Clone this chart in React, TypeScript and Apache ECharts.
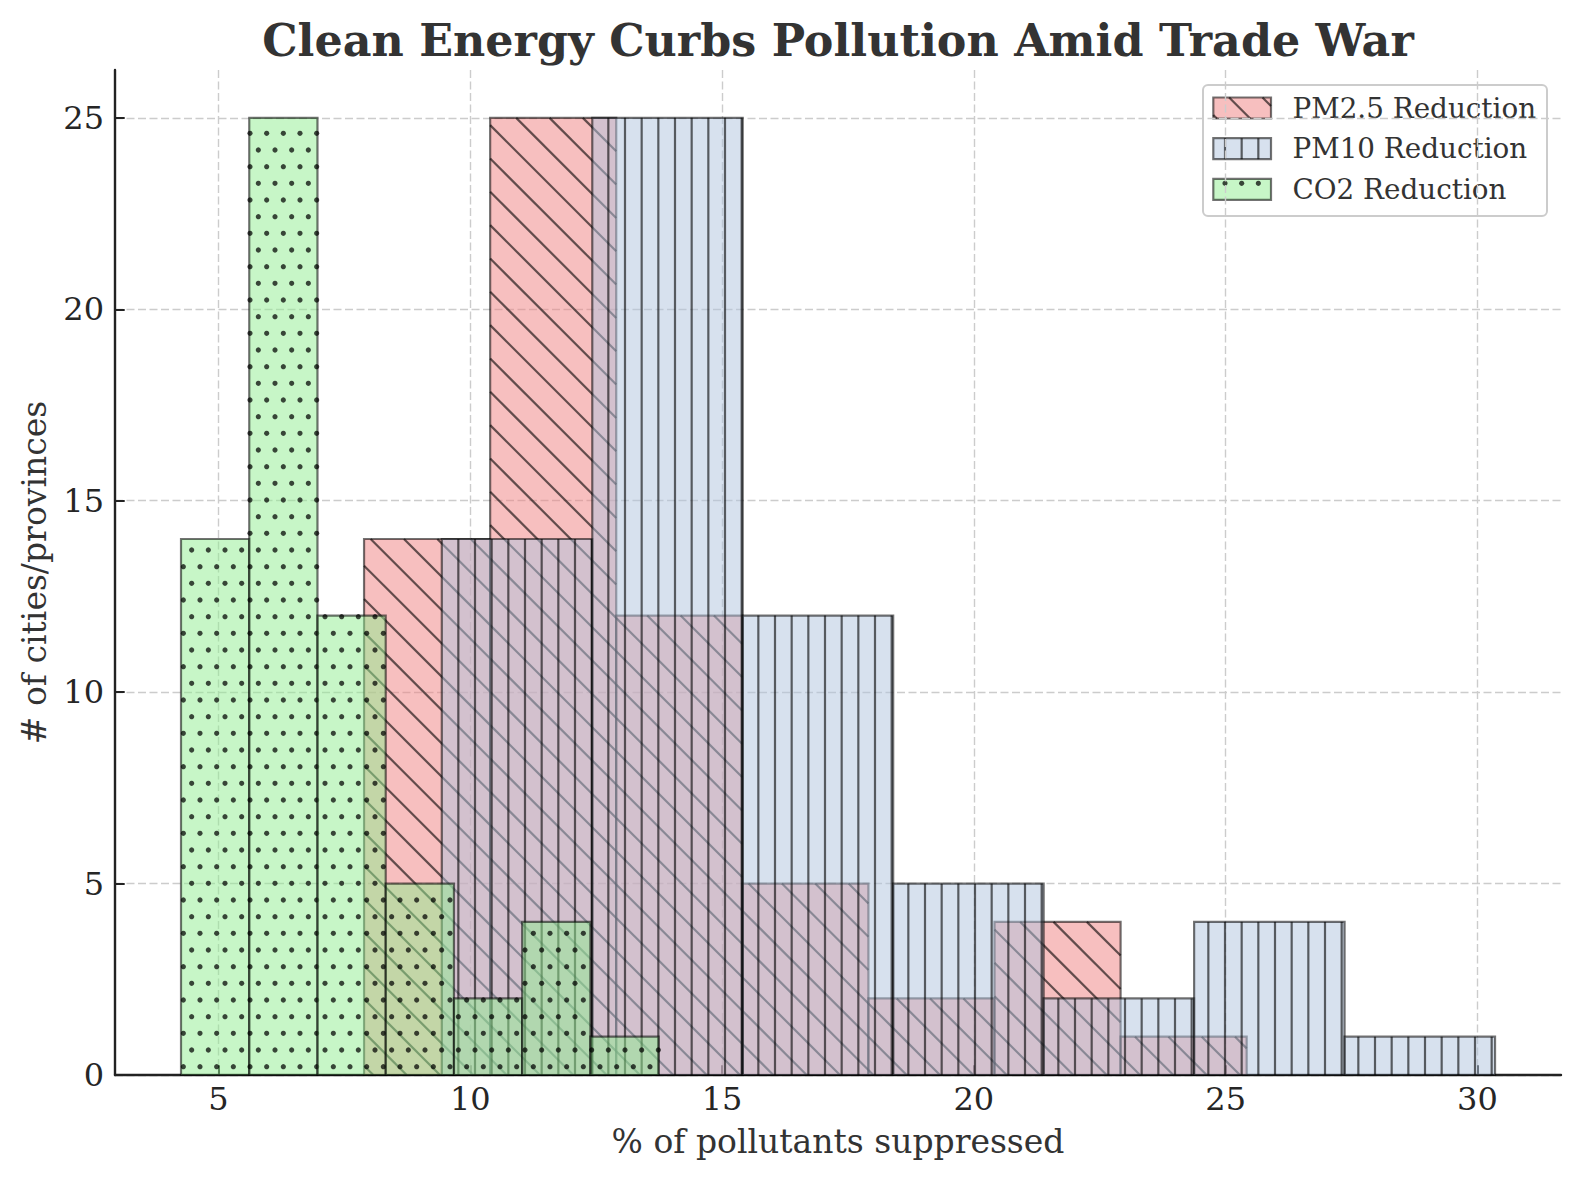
import React, { useEffect, useRef } from 'react';
import * as echarts from 'echarts';

// ---------------- data ----------------
const xTickValues = [5, 10, 15, 20, 25, 30];
const yTickValues = [0, 5, 10, 15, 20, 25];

const pm25Edges = [7.89, 10.394, 12.898, 15.402, 17.906, 20.41, 22.914, 25.418];
const pm25Counts = [14, 25, 12, 5, 2, 4, 1];

const pm10Edges = [9.434, 12.422, 15.41, 18.398, 21.386, 24.374, 27.362, 30.35];
const pm10Counts = [14, 25, 12, 5, 2, 4, 1];

const co2Edges = [4.255, 5.61, 6.965, 8.32, 9.675, 11.03, 12.385, 13.74];
const co2Counts = [14, 25, 12, 5, 2, 4, 1];

const seriesNames = ['PM2.5 Reduction', 'PM10 Reduction', 'CO2 Reduction'];
const titleText = 'Clean Energy Curbs Pollution Amid Trade War';
const xAxisName = '% of pollutants suppressed';
const yAxisName = '# of cities/provinces';

// ---------------- style ----------------
const FONT = "'DejaVu Serif', serif";
const X_MIN = 2.944;
const X_MAX = 31.66;
const Y_MAX = 26.25;
const HATCH = 'rgba(0,0,0,0.6)';
const DOT = 'rgba(0,0,0,0.72)';
const EDGE = 'rgba(0,0,0,0.55)';
const STEP = 200 / 12;
const FILLS = ['rgba(240,128,128,0.5)', 'rgba(176,196,222,0.5)', 'rgba(144,238,144,0.5)'];
const KINDS = ['diag', 'vert', 'dots'];

function hatchEls(kind: string, l: number, t: number, r: number, b: number) {
  const els: any[] = [];
  if (kind === 'diag') {
    const sp = 2 * STEP;
    const phase = -1.67;
    const cMin = l - b;
    const cMax = r - t;
    for (let k = Math.ceil((cMin - phase) / sp); phase + k * sp <= cMax; k++) {
      const c = phase + k * sp;
      const xa = Math.max(l, t + c);
      const xb = Math.min(r, b + c);
      if (xb - xa > 0.5) {
        els.push({ type: 'line', silent: true, shape: { x1: xa, y1: xa - c, x2: xb, y2: xb - c }, style: { stroke: HATCH, lineWidth: 2.2 } });
      }
    }
  } else if (kind === 'vert') {
    const phase = STEP / 2;
    for (let k = Math.ceil((l - phase) / STEP); phase + k * STEP <= r; k++) {
      const x = phase + k * STEP;
      if (x - l < 0.4 || r - x < 0.4) continue;
      els.push({ type: 'line', silent: true, shape: { x1: x, y1: t, x2: x, y2: b }, style: { stroke: HATCH, lineWidth: 2.2 } });
    }
  } else {
    for (let j = Math.ceil(t / STEP); j * STEP <= b; j++) {
      const y = j * STEP;
      const off = j % 2 === 0 ? 0 : STEP / 2;
      for (let m = Math.ceil((l - off) / STEP); off + m * STEP <= r; m++) {
        const x = off + m * STEP;
        els.push({ type: 'circle', silent: true, shape: { cx: x, cy: y, r: 2.6 }, style: { fill: DOT } });
      }
    }
  }
  return els;
}

function barGroup(kind: string, fill: string, l: number, t: number, r: number, b: number) {
  return {
    type: 'group',
    children: [
      { type: 'rect', silent: true, shape: { x: l, y: t, width: r - l, height: b - t }, style: { fill } },
      ...hatchEls(kind, l, t, r, b),
      { type: 'rect', silent: true, shape: { x: l, y: t, width: r - l, height: b - t }, style: { fill: 'none', stroke: EDGE, lineWidth: 2.2 } },
    ],
  };
}

function mkSeries(idx: number, edges: number[], counts: number[]) {
  return {
    type: 'custom',
    name: seriesNames[idx],
    z: 2 + idx,
    silent: true,
    encode: { x: [0, 1], y: 2 },
    data: counts.map((c, i) => [edges[i], edges[i + 1], c]),
    renderItem: (params: any, api: any) => {
      const p0 = api.coord([api.value(0), api.value(2)]);
      const p1 = api.coord([api.value(1), 0]);
      return barGroup(KINDS[idx], FILLS[idx], p0[0], p0[1], p1[0], p1[1]);
    },
  };
}

function legendGraphic() {
  const left = 1203;
  const top = 85;
  const children: any[] = [
    { type: 'rect', shape: { x: left, y: top, width: 344, height: 131, r: 5 }, style: { fill: 'rgba(255,255,255,0.8)', stroke: '#cccccc', lineWidth: 2 } },
  ];
  seriesNames.forEach((name, i) => {
    const sy = 97.5 + i * 40.7;
    const sx = 1213.3;
    const g = barGroup(KINDS[i], FILLS[i], sx, sy, sx + 57.7, sy + 21);
    children.push(g);
    children.push({
      type: 'text',
      x: 1292.5,
      y: sy + 10.5,
      style: { text: name, fill: '#333333', font: `27.8px ${FONT}`, align: 'left', verticalAlign: 'middle' },
    });
  });
  return { type: 'group', silent: true, children };
}

export default function App() {
  const ref = useRef<HTMLDivElement>(null);
  useEffect(() => {
    if (!ref.current) return;
    const chart = echarts.init(ref.current, undefined, { renderer: 'svg' });
    const gridLine = { show: true, lineStyle: { color: '#cccccc', width: 1.4, type: [8, 3.5] } };
    chart.setOption({
      animation: false,
      backgroundColor: '#ffffff',
      grid: { left: 115, top: 70, right: 1580 - 1561, bottom: 1180 - 1075, containLabel: false },
      xAxis: {
        type: 'value',
        min: X_MIN,
        max: X_MAX,
        axisLine: { show: true, onZero: false, lineStyle: { color: '#222222', width: 2.4 } },
        axisTick: { show: true, inside: true, length: 9.7, lineStyle: { color: '#222222', width: 2 }, customValues: xTickValues },
        axisLabel: { show: true, customValues: xTickValues, fontFamily: FONT, fontSize: 32, color: '#262626', margin: 8, formatter: (v: number) => String(v) },
        splitLine: gridLine,
      },
      yAxis: {
        type: 'value',
        min: 0,
        max: Y_MAX,
        axisLine: { show: true, onZero: false, lineStyle: { color: '#222222', width: 2.4 } },
        axisTick: { show: true, inside: true, length: 9.7, lineStyle: { color: '#222222', width: 2 }, customValues: yTickValues },
        axisLabel: { show: true, customValues: yTickValues, fontFamily: FONT, fontSize: 32, color: '#262626', margin: 11, formatter: (v: number) => String(v) },
        splitLine: gridLine,
      },
      series: [
        mkSeries(0, pm25Edges, pm25Counts),
        mkSeries(1, pm10Edges, pm10Counts),
        mkSeries(2, co2Edges, co2Counts),
      ],
      graphic: [
        { type: 'text', x: 838, y: 40, style: { text: titleText, fill: '#333333', font: `bold 44.4px ${FONT}`, align: 'center', verticalAlign: 'middle' } },
        { type: 'text', x: 838, y: 1141, style: { text: xAxisName, fill: '#333333', font: `33px ${FONT}`, align: 'center', verticalAlign: 'middle' } },
        { type: 'text', x: 34, y: 572.5, rotation: Math.PI / 2, style: { text: yAxisName, fill: '#333333', font: `33px ${FONT}`, align: 'center', verticalAlign: 'middle' } },
        legendGraphic(),
      ],
    });
    return () => chart.dispose();
  }, []);
  return <div ref={ref} style={{ position: 'fixed', left: 0, top: 0, width: 1580, height: 1180 }} />;
}
